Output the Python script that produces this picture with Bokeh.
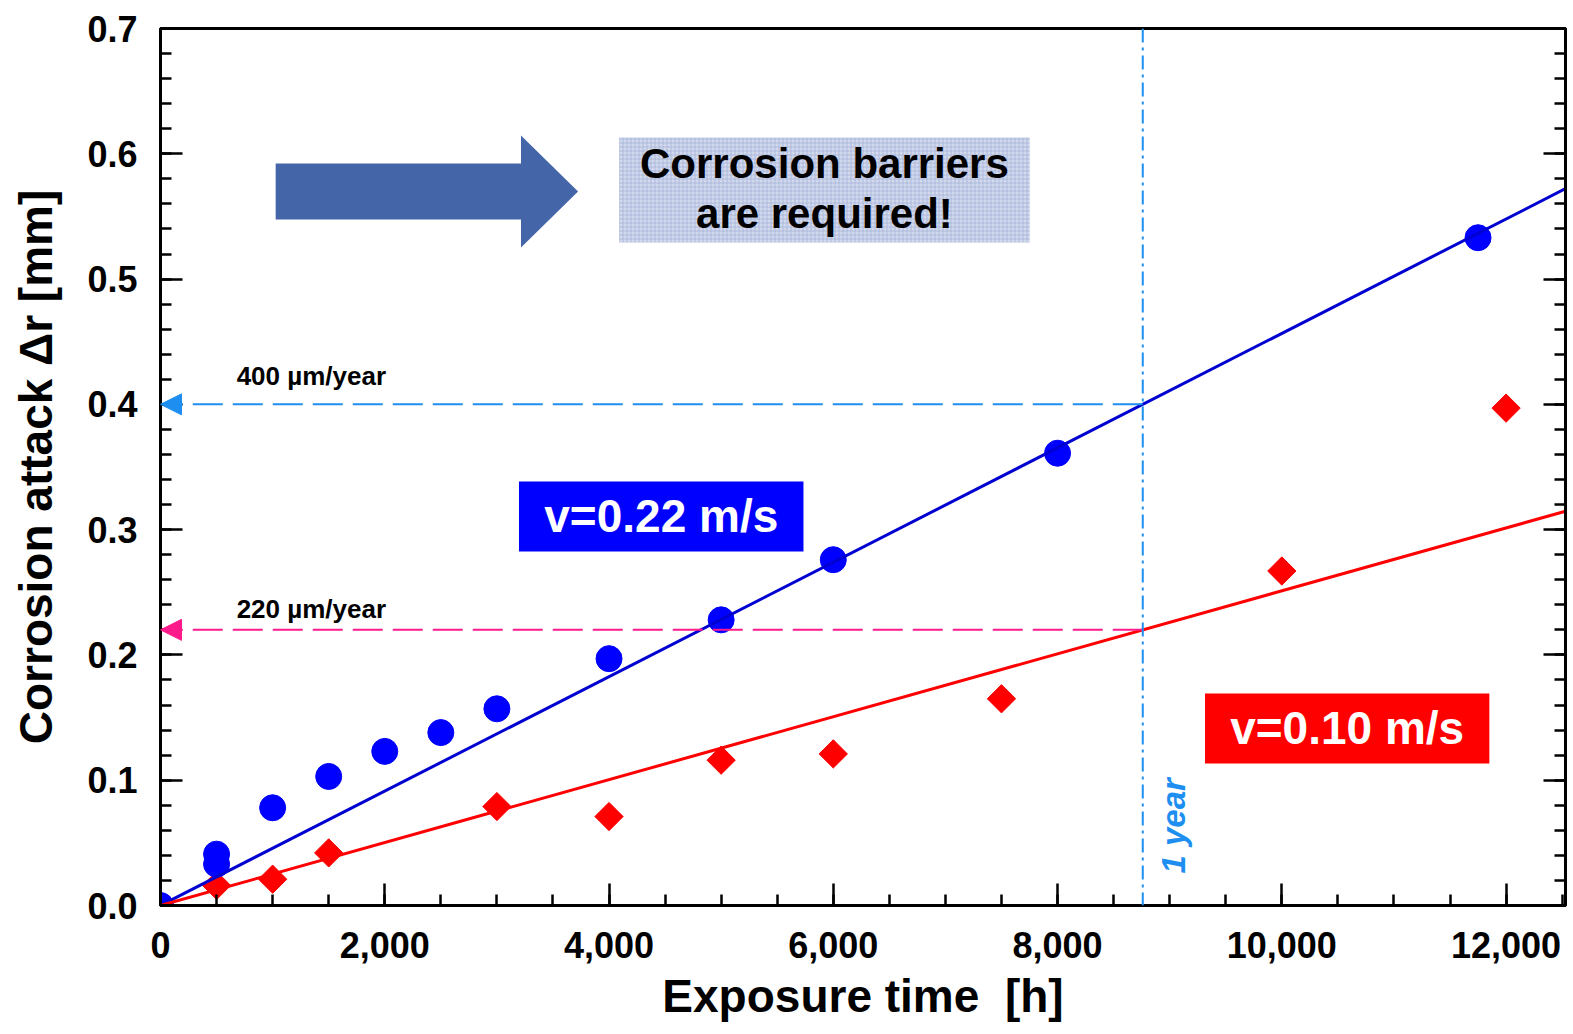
import numpy as np
from bokeh.plotting import figure
from bokeh.models import (LinearAxis, SingleIntervalTicker, NumeralTickFormatter, Range1d,
                          Span, Arrow, NormalHead, Label, ColumnDataSource, CustomJSTickFormatter)
from bokeh.embed import file_html
from bokeh.resources import INLINE

# ---------------- data ----------------
blue_time = [0, 500, 500, 1000, 1500, 2000, 2500, 3000, 4000, 5000, 6000, 8000, 11750]
blue_attack = [0.0, 0.041, 0.033, 0.078, 0.103, 0.123, 0.138, 0.157, 0.197, 0.228, 0.276, 0.361, 0.533]

red_time = [0, 500, 1000, 1500, 3000, 4000, 5000, 6000, 7500, 10000, 12000]
red_attack = [0.0, 0.016, 0.021, 0.042, 0.079, 0.071, 0.116, 0.121, 0.165, 0.267, 0.397]

one_year_h = 8760
rate_fast = 0.40   # mm/year  (400 µm/year), v = 0.22 m/s
rate_slow = 0.22   # mm/year  (220 µm/year), v = 0.10 m/s

fit_time = [0, 12530]
fit_fast = [t * rate_fast / one_year_h for t in fit_time]
fit_slow = [t * rate_slow / one_year_h for t in fit_time]

x_ticks_major = 2000
y_ticks_major = 0.1

FONT = "Liberation Sans"
LIGHT_BLUE = "#1E8FF0"
PINK = "#FF1A8C"

p = figure(width=1573, height=1034, output_backend="svg", toolbar_location=None,
           x_range=Range1d(0, 12530), y_range=Range1d(0, 0.7000001),
           min_border_left=160, min_border_right=8, min_border_top=28, min_border_bottom=129)
p.grid.visible = False
p.outline_line_color = "black"
p.outline_line_width = 3
p.background_fill_color = "white"
p.border_fill_color = "white"

xt = SingleIntervalTicker(interval=x_ticks_major, num_minor_ticks=4)
yt = SingleIntervalTicker(interval=y_ticks_major, num_minor_ticks=5)
p.xaxis.ticker = xt
p.yaxis.ticker = yt
p.xaxis.formatter = NumeralTickFormatter(format="0,0")
p.yaxis.formatter = NumeralTickFormatter(format="0.0")
p.xaxis.axis_label = "Exposure time\u00a0\u00a0[h]"
p.yaxis.axis_label = "Corrosion attack \u0394r [mm]"

right_axis = LinearAxis(ticker=yt, formatter=CustomJSTickFormatter(code="return ''"),
                        major_label_standoff=0, major_label_text_font_size="1px")
p.add_layout(right_axis, "right")

for ax in [p.xaxis[0], p.yaxis[0], right_axis]:
    ax.axis_line_width = 3
    ax.axis_line_color = "black"
    ax.major_tick_in = 22
    ax.major_tick_out = 0
    ax.minor_tick_in = 11
    ax.minor_tick_out = 0
    ax.major_tick_line_width = 2.5
    ax.minor_tick_line_width = 2.5
    ax.major_tick_line_color = "black"
    ax.minor_tick_line_color = "black"
    ax.major_label_text_font = FONT
    ax.major_label_text_font_style = "bold"
    ax.major_label_text_color = "black"
    ax.axis_label_text_font = FONT
    ax.axis_label_text_font_style = "bold"
    ax.axis_label_text_font_size = "46px"
    ax.axis_label_text_color = "black"

p.xaxis.major_label_text_font_size = "36px"
p.yaxis.major_label_text_font_size = "36px"
p.xaxis.major_label_standoff = 26
p.yaxis.major_label_standoff = 23
p.xaxis.axis_label_standoff = 9
p.yaxis.axis_label_standoff = 22

# ---------------- decorations ----------------
# block arrow
p.patch([1027, 3215, 3215, 3724, 3215, 3215, 1027],
        [0.5922, 0.5922, 0.6146, 0.5699, 0.5252, 0.5475, 0.5475],
        color="#4565A9", line_width=0)

# textured box
p.quad(left=[4090], right=[7752], bottom=[0.5292], top=[0.6130],
       fill_color="#D2D9EC", line_color=None,
       hatch_pattern="+", hatch_color="#A3B0D8", hatch_scale=4, hatch_weight=1, hatch_alpha=0.7)
p.add_layout(Label(x=5921, y=0.5922, text="Corrosion barriers", text_align="center",
                   text_baseline="middle", text_font=FONT, text_font_style="bold",
                   text_font_size="42px", text_color="black"))
p.add_layout(Label(x=5921, y=0.5523, text="are required!", text_align="center",
                   text_baseline="middle", text_font=FONT, text_font_style="bold",
                   text_font_size="42px", text_color="black"))

# rate lines with arrows
p.add_layout(Arrow(end=NormalHead(size=21, fill_color=LIGHT_BLUE, line_color=LIGHT_BLUE, line_width=1),
                   x_start=one_year_h, y_start=rate_fast, x_end=0, y_end=rate_fast,
                   line_color=LIGHT_BLUE, line_width=2, line_dash="30 10"))
p.add_layout(Arrow(end=NormalHead(size=21, fill_color=PINK, line_color=PINK, line_width=1),
                   x_start=one_year_h, y_start=rate_slow, x_end=0, y_end=rate_slow,
                   line_color=PINK, line_width=2, line_dash="30 10"))
p.add_layout(Label(x=679, y=0.423, text="400 \u00b5m/year", text_align="left", text_baseline="middle",
                   text_font=FONT, text_font_style="bold", text_font_size="26px", text_color="black"))
p.add_layout(Label(x=679, y=0.237, text="220 \u00b5m/year", text_align="left", text_baseline="middle",
                   text_font=FONT, text_font_style="bold", text_font_size="26px", text_color="black"))

# one-year line
p.add_layout(Span(location=one_year_h, dimension="height", line_color=LIGHT_BLUE,
                  line_width=2, line_dash="14 5 3 5"))
p.add_layout(Label(x=8870, y=0.0255, text="1 year", angle=np.pi / 2, text_align="left",
                   text_baseline="top", text_font=FONT, text_font_style="bold italic",
                   text_font_size="33px", text_color=LIGHT_BLUE))

# velocity boxes
p.quad(left=[3197], right=[5734], bottom=[0.2825], top=[0.3384], fill_color="#0000FF", line_color=None)
p.add_layout(Label(x=4466, y=0.3105, text="v=0.22 m/s", text_align="center", text_baseline="middle",
                   text_font=FONT, text_font_style="bold", text_font_size="46px", text_color="white"))
p.quad(left=[9315], right=[11851], bottom=[0.1133], top=[0.1692], fill_color="#FF0000", line_color=None)
p.add_layout(Label(x=10583, y=0.1413, text="v=0.10 m/s", text_align="center", text_baseline="middle",
                   text_font=FONT, text_font_style="bold", text_font_size="46px", text_color="white"))

# ---------------- data marks ----------------
red_src = ColumnDataSource(dict(x=red_time, y=red_attack))
blue_src = ColumnDataSource(dict(x=blue_time, y=blue_attack))
p.scatter("x", "y", source=red_src, marker="square", angle=np.pi / 4, size=20,
          fill_color="#FF0000", line_color="#FF0000")
p.scatter("x", "y", source=blue_src, marker="circle", size=26,
          fill_color="#0000FF", line_color="#0000FF")
p.line(fit_time, fit_fast, line_color="#0000D0", line_width=3)
p.line(fit_time, fit_slow, line_color="#FF0000", line_width=3)

open("out.html", "w").write(file_html(p, INLINE))
